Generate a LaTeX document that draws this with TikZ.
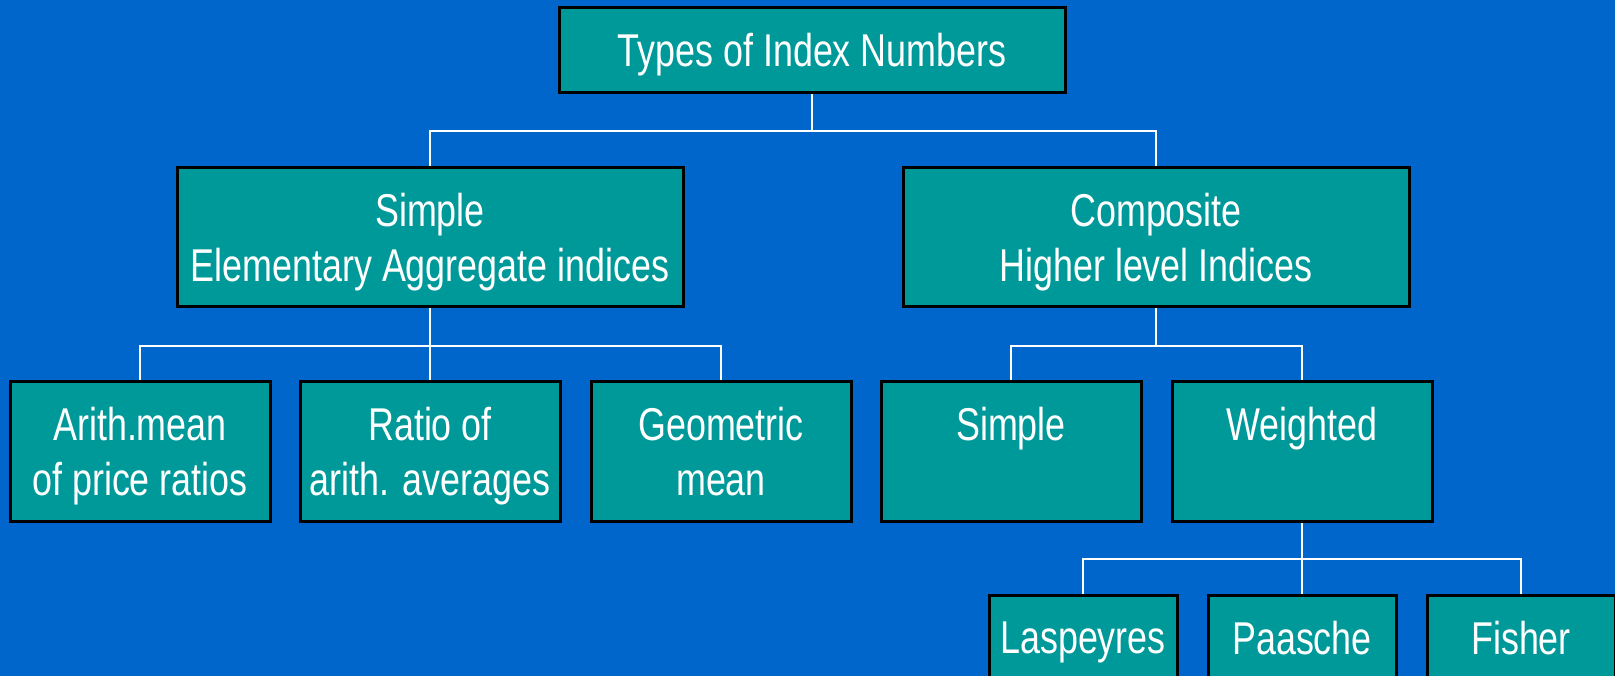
\documentclass[tikz,border=0pt]{standalone}
\usepackage{fontspec}
\setmainfont{Liberation Sans}[FakeStretch=0.78]
\usetikzlibrary{positioning,calc}
\definecolor{bgblue}{HTML}{0066CC}
\definecolor{boxteal}{HTML}{009999}

\begin{document}
\begin{tikzpicture}[
  x=1pt, y=-1pt,
  font=\fontsize{46}{55}\selectfont,
  box/.style={draw=black, line width=3pt, fill=boxteal, text=white,
              align=center, inner sep=0pt, text depth=0pt},
  wide/.style={box, minimum width=506pt, minimum height=139pt},
  cell/.style={box, minimum width=260pt, minimum height=140pt},
  leaf/.style={box, minimum width=188pt, minimum height=140pt},
  conn/.style={draw=white, line width=2.8pt},
]
\clip (0,0) rectangle (1615,676);
\fill[bgblue] (0,0) rectangle (1615,676);

% ---- top ----
\node[box, minimum width=506pt, minimum height=85pt] (types) at (812,50)
  {Types of Index Numbers};

% ---- second level ----
\node[wide] (simple) at (430,237) {Simple\\Elementary Aggregate indices};
\node[wide] (comp) at (1156,237) {Composite\\Higher level Indices};

% ---- third level ----
\node[cell] (arith) at (140,451) {Arith.mean\\of price ratios};
\node[cell] (ratio) at (430,451) {Ratio of\\arith. averages};
\node[cell] (geom) at (721,451) {Geometric\\mean};
\node[cell] (csimple) at (1011,451) {Simple\\\mbox{}};
\node[cell] (weighted) at (1302,451) {Weighted\\\mbox{}};

% ---- bottom ----
\node[leaf] (lasp) at (1083,665) {Laspeyres\\\mbox{}};
\node[leaf] (paas) at (1302,665) {Paasche\\\mbox{}};
\node[leaf] (fish) at (1521,665) {Fisher\\\mbox{}};

% ---- connectors ----
\coordinate (b1) at (812,131);
\draw[conn] (types.south) -- (b1);
\draw[conn] (b1) -| (simple.north);
\draw[conn] (b1) -| (comp.north);

\coordinate (b2) at (430,346);
\draw[conn] (simple.south) -- (ratio.north);
\draw[conn] (b2) -| (arith.north);
\draw[conn] (b2) -| (geom.north);

\coordinate (b3) at (1156,346);
\draw[conn] (comp.south) -- (b3);
\draw[conn] (b3) -| (csimple.north);
\draw[conn] (b3) -| (weighted.north);

\coordinate (b4) at (1302,559);
\draw[conn] (weighted.south) -- (paas.north);
\draw[conn] (b4) -| (lasp.north);
\draw[conn] (b4) -| (fish.north);
\end{tikzpicture}
\end{document}
